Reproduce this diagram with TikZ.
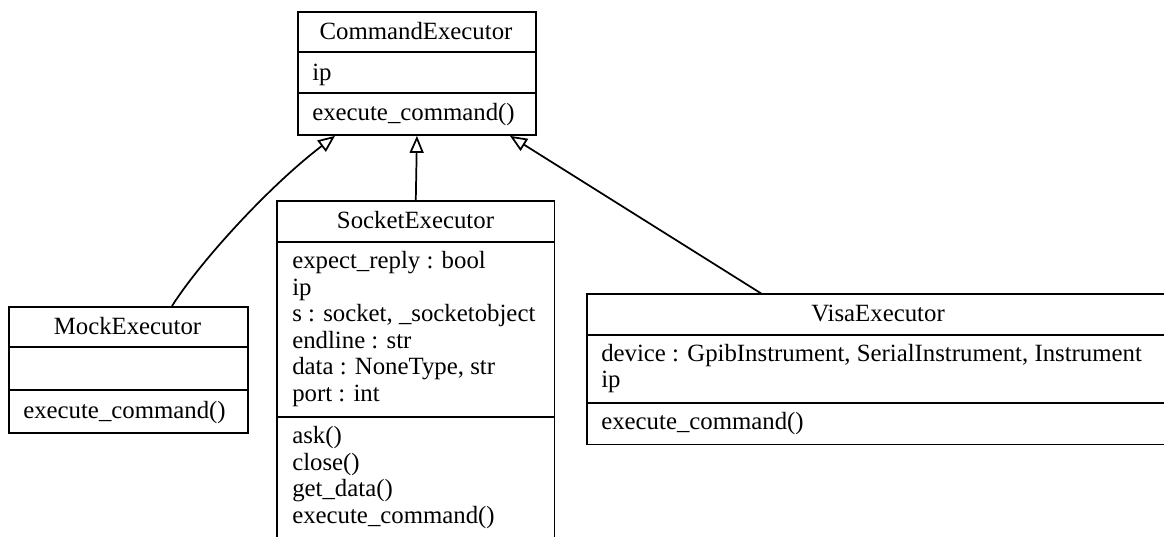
\documentclass[tikz,border=0pt]{standalone}
\usepackage{fontspec}
\setmainfont{Liberation Serif}
\usetikzlibrary{arrows.meta,calc}
\begin{document}
\begin{tikzpicture}[x=0.75pt,y=-0.75pt,
  box/.style={draw, line width=1.4pt, inner sep=0pt, anchor=north west},
  openbox/.style={inner sep=0pt, anchor=north west},
  sepline/.style={line width=1.4pt},
  txt/.style={inner sep=0pt, anchor=base west, font=\fontsize{18.6pt}{20pt}\selectfont},
  ttl/.style={inner sep=0pt, anchor=base, font=\fontsize{18.6pt}{20pt}\selectfont},
  inh/.style={line width=1.3pt, -{Triangle[open, length=12.75pt, width=10.5pt, line width=1.3pt]}}]
\clip (0,0) rectangle (1164,536);
\fill[white] (0,0) rectangle (1164,536);

% CommandExecutor
\node[box, minimum width=178.5pt, minimum height=92.25pt] (ce) at (297,11) {};
\draw[sepline] ($(ce.north west)+(0,41)$) -- ($(ce.north east)+(0,41)$);
\draw[sepline] ($(ce.north west)+(0,82)$) -- ($(ce.north east)+(0,82)$);
\node[ttl] (ceT) at (416,39) {CommandExecutor};
\node[txt] (ceA1) at (312,80) {ip};
\node[txt] (ceM1) at (312,120) {execute\_command()};

% MockExecutor
\node[box, minimum width=179.25pt, minimum height=94.5pt] (mock) at (8,306) {};
\draw[sepline] ($(mock.north west)+(0,41)$) -- ($(mock.north east)+(0,41)$);
\draw[sepline] ($(mock.north west)+(0,84)$) -- ($(mock.north east)+(0,84)$);
\node[ttl] (mockT) at (127.5,334) {MockExecutor};
\node[txt] (mockM1) at (23,418) {execute\_command()};

% SocketExecutor (bottom edge lies outside the picture)
\node[openbox, minimum width=207.75pt, minimum height=253.5pt] (sock) at (277,201) {};
\draw[sepline] (sock.south west) -- (sock.north west) -- (sock.north east) -- (sock.south east);
\draw[sepline] ($(sock.north west)+(0,41)$) -- ($(sock.north east)+(0,41)$);
\draw[sepline] ($(sock.north west)+(0,216)$) -- ($(sock.north east)+(0,216)$);
\node[ttl] (sockT) at (415.5,228) {SocketExecutor};
\node[txt] (sockA1) at (292,268.5) {expect\_reply : bool};
\node[txt] (sockA2) at (292,295) {ip};
\node[txt] (sockA3) at (292,321.5) {s : socket, \_socketobject};
\node[txt] (sockA4) at (292,348) {endline : str};
\node[txt] (sockA5) at (292,374.5) {data : NoneType, str};
\node[txt] (sockA6) at (292,401) {port : int};
\node[txt] (sockM1) at (292,443.5) {ask()};
\node[txt] (sockM2) at (292,470) {close()};
\node[txt] (sockM3) at (292,496.5) {get\_data()};
\node[txt] (sockM4) at (292,523) {execute\_command()};

% VisaExecutor (right edge lies outside the picture)
\node[openbox, minimum width=450pt, minimum height=112.5pt] (visa) at (587,294) {};
\draw[sepline] (visa.north east) -- (visa.north west) -- (visa.south west) -- (visa.south east);
\draw[sepline] ($(visa.north west)+(0,41)$) -- ($(visa.north east)+(0,41)$);
\draw[sepline] ($(visa.north west)+(0,109)$) -- ($(visa.north east)+(0,109)$);
\node[ttl] (visaT) at (878,321.5) {VisaExecutor};
\node[txt] (visaA1) at (601,361) {device : GpibInstrument, SerialInstrument, Instrument};
\node[txt] (visaA2) at (601,387.5) {ip};
\node[txt] (visaM1) at (601,429) {execute\_command()};

% connectors
\coordinate (ceL) at ($(ce.south west)+(38,0)$);
\coordinate (ceR) at ($(ce.south west)+(213,0)$);
\coordinate (mockA) at ($(mock.north west)+(164,0)$);
\coordinate (visaA) at ($(visa.north west)+(175,0)$);
\draw[inh] (mockA) .. controls (200,262) and (268,187) .. (ceL);
\draw[inh] (sock.north) -- (ce.south);
\draw[inh] (visaA) -- (ceR);
\end{tikzpicture}
\end{document}
